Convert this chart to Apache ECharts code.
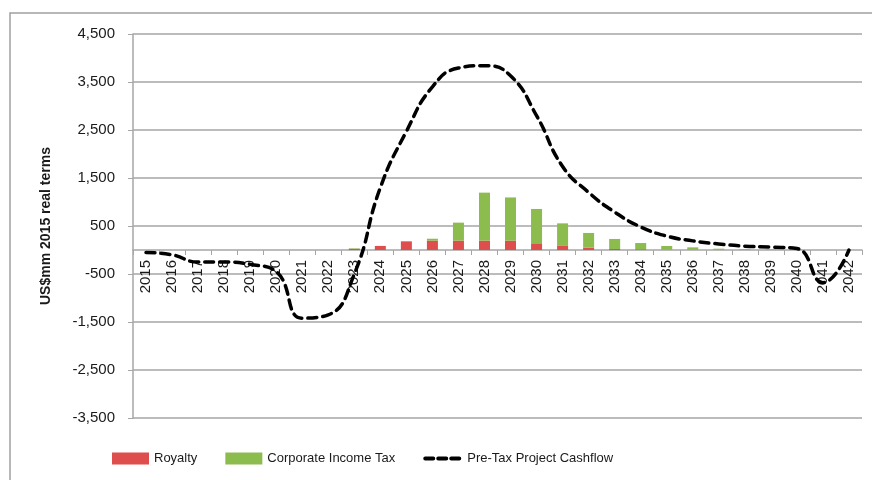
<!DOCTYPE html>
<html>
<head>
<meta charset="utf-8">
<script src="https://cdn.jsdelivr.net/npm/echarts@6/dist/echarts.min.js"></script>
<style>
  html, body { margin: 0; padding: 0; background: #fff; }
  #chart { width: 872px; height: 480px; }
</style>
</head>
<body>
<div id="chart"></div>
<script>
// years on the category axis
const years = ['2015','2016','2017','2018','2019','2020','2021','2022','2023','2024','2025','2026','2027','2028',
  '2029','2030','2031','2032','2033','2034','2035','2036','2037','2038','2039','2040','2041','2042'];

// US$mm
const royalty = [0,0,0,0,0,0,0,0,25,85,180,195,195,195,195,140,85,50,20,15,5,3,2,1,1,0,0,0];
const corpTax = [0,0,0,0,0,0,0,0,10,0,5,40,375,1000,900,715,470,305,210,130,78,52,25,19,14,10,0,0];
const cashflow = [-50,-100,-250,-250,-300,-450,-1420,-1350,-500,1300,2470,3400,3790,3840,3630,2800,1740,1200,790,480,290,190,125,80,60,30,-680,0];

const yTicks = { min: -3500, max: 4500, step: 1000 };

const myChart = echarts.init(document.getElementById('chart'));
const txt = '#1a1a1a';
const gridGrey = '#a6a6a6';

let option = {
  animation: false,
  textStyle: { fontFamily: 'Liberation Sans' },
  graphic: [{
    type: 'rect',
    shape: { x: 10, y: 13, width: 900, height: 500 },
    style: { fill: 'none', stroke: '#a0a0a0', lineWidth: 1.5 }
  }],
  grid: { left: 133, right: 10, top: 34, bottom: 62 },
  legend: {
    left: 107, top: 447,
    itemWidth: 37, itemHeight: 12, itemGap: 28,
    textStyle: { fontSize: 13, color: txt },
    data: [
      { name: 'Royalty', icon: 'rect' },
      { name: 'Corporate Income Tax', icon: 'rect' },
      { name: 'Pre-Tax Project Cashflow', itemStyle: { opacity: 0 },
        lineStyle: { width: 4, type: [8, 5], cap: 'round' } }
    ]
  },
  xAxis: {
    type: 'category',
    data: years,
    // axis sits on the zero line, labels hang just under it
    offset: -168,
    axisLine: { onZero: false, lineStyle: { color: gridGrey, width: 1.5 } },
    axisTick: { show: true, alignWithLabel: false, length: 5, lineStyle: { color: gridGrey } },
    axisLabel: { rotate: 90, margin: 10, fontSize: 15, color: txt, interval: 0 }
  },
  yAxis: {
    type: 'value',
    min: yTicks.min, max: yTicks.max, interval: yTicks.step,
    name: 'US$mm 2015 real terms',
    nameLocation: 'middle',
    nameGap: 80,
    nameTextStyle: { fontSize: 14, fontWeight: 'bold', color: txt },
    axisLine: { show: true, lineStyle: { color: gridGrey, width: 1.5 } },
    axisTick: { show: true, length: 5, lineStyle: { color: gridGrey } },
    splitLine: { lineStyle: { color: gridGrey, width: 1.5 } },
    axisLabel: {
      margin: 18, fontSize: 15, color: txt,
      formatter: v => v.toLocaleString('en-US')
    }
  },
  series: [
    {
      name: 'Royalty', type: 'bar', stack: 'tax',
      barWidth: 11,
      itemStyle: { color: '#dd4e4c' },
      data: royalty
    },
    {
      name: 'Corporate Income Tax', type: 'bar', stack: 'tax',
      barWidth: 11,
      itemStyle: { color: '#8cbb4e' },
      data: corpTax
    },
    {
      name: 'Pre-Tax Project Cashflow', type: 'line',
      smooth: 0.5,
      symbol: 'none',
      z: 5,
      lineStyle: { color: '#000', width: 3.5, type: [9, 6], cap: 'round' },
      itemStyle: { color: '#000' },
      data: cashflow
    }
  ]
};
myChart.setOption(option);
</script>
</body>
</html>
